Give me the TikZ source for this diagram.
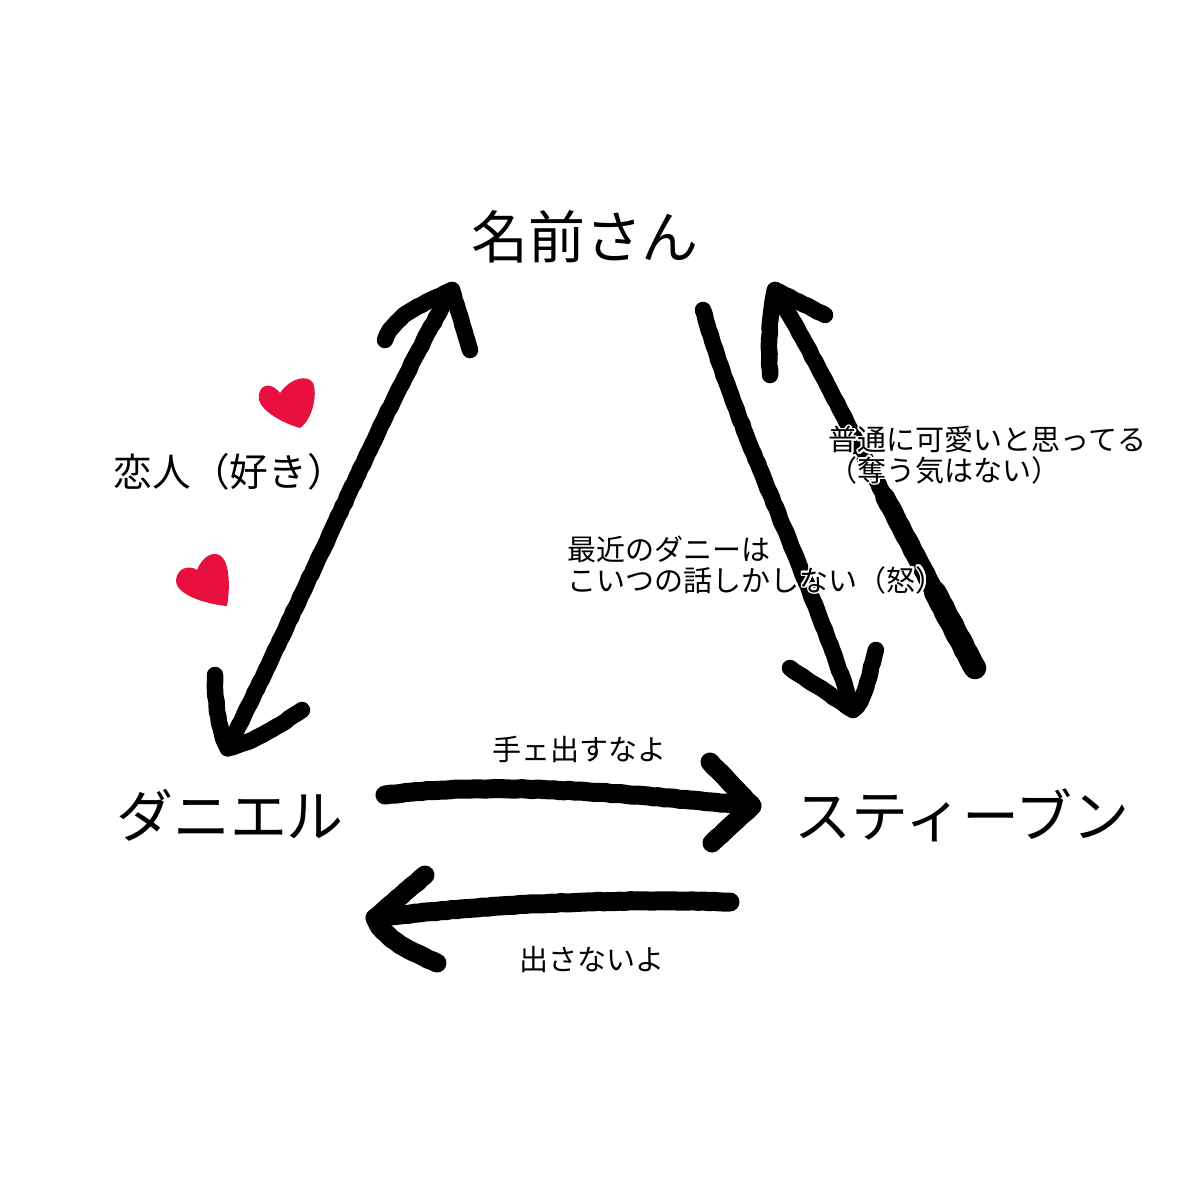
\documentclass[tikz,border=0pt]{standalone}
\usepackage{fontspec}
\setmainfont{Noto Sans CJK JP}
\usepackage[copies]{contour}
\contourlength{0.5pt}
\usetikzlibrary{positioning,decorations.pathmorphing}

\begin{document}
\begin{tikzpicture}[
	x=0.01cm,
	y=-0.01cm,
	person/.style={
		inner sep=0pt,
		font=\fontsize{16.2pt}{18pt}\selectfont,
	},
	remark/.style={
		inner sep=0pt,
		anchor=west,
		align=left,
		font=\fontsize{8.25pt}{8.6pt}\selectfont,
	},
	stroke/.style={
		line width=1.65mm,
		line cap=round,
		line join=round,
		decorate,
		decoration={random steps,segment length=1.5pt,amplitude=0.12pt},
	},
	heart/.style={
		fill={rgb,255:red,232;green,16;blue,63},
	}
]

\useasboundingbox (0,0) rectangle (1200,1200);

% People
\node [person] (name) at (585,237) {名前さん};
\node [person] (dan) at (230,815) {ダニエル};
\node [person] (ste) at (962,815) {スティーブン};

% Arrow ends
\coordinate (nametip) at (452,290);
\coordinate (dantip) at (228,748);
\coordinate (namefoot) at (703,310);
\coordinate (stetip) at (853,710);
\coordinate (stefoot) at (975,668);
\coordinate (stelow) at (935,592);
\coordinate (stemid) at (885,497);
\coordinate (nameback) at (775,290);
\coordinate (danfoot) at (385,795);
\coordinate (steright) at (752,806);
\coordinate (steback) at (730,902);
\coordinate (danback) at (375,918);

% Between name and Daniel
\draw[stroke] (nametip) .. controls (390,395) and (328,545) .. (dantip);
\draw[stroke] (385,340) .. controls (395,315) and (420,305) .. (nametip) -- (470,350);
\draw[stroke] (215,675) .. controls (215,700) and (218,730) .. (dantip)
	.. controls (255,742) and (280,725) .. (302,710);

% Between name and Steven
\draw[stroke] (namefoot) .. controls (740,440) and (800,550) .. (stetip);
\draw[stroke] (790,668) -- (stetip) .. controls (868,695) and (868,675) .. (876,650);
\draw[stroke] (stemid) .. controls (850,430) and (815,358) .. (nameback);
\draw[stroke,line width=1.95mm] (stelow) -- (stemid);
\draw[stroke,line width=2.25mm] (stefoot) -- (stelow);
\draw[stroke] (770,375) .. controls (768,340) and (770,310) .. (nameback) -- (825,315);

% Between Daniel and Steven
\draw[stroke,line width=1.9mm] (danfoot) .. controls (500,780) and (640,795) .. (steright);
\draw[stroke,line width=1.9mm] (710,762) -- (steright) -- (712,843);
\draw[stroke,line width=1.9mm] (steback) .. controls (600,898) and (480,905) .. (danback);
\draw[stroke,line width=1.9mm] (425,875) -- (danback) .. controls (385,940) and (410,950) .. (437,963);

% Hearts
\fill[heart] (280,393) .. controls (270,380) and (257,385) .. (259,400)
	.. controls (262,412) and (285,424) .. (300,428)
	.. controls (312,420) and (318,395) .. (313,383)
	.. controls (308,374) and (290,378) .. (280,393);
\fill[heart] (197,570) .. controls (190,565) and (176,567) .. (176,582)
	.. controls (178,595) and (205,604) .. (227,606)
	.. controls (230,590) and (230,565) .. (222,557)
	.. controls (215,550) and (203,555) .. (197,570);

% Labels
\node [remark,font=\fontsize{11pt}{12pt}\selectfont] (lovers) at (113,472) {恋人（好き）};
\node [remark] (cute) at (828,456) {\contour{white}{普通に可愛いと思ってる}\\\contour{white}{（奪う気はない）}};
\node [remark] (angry) at (567,566) {\contour{white}{最近のダニーは}\\\contour{white}{こいつの話しかしない（怒）}};
\node [remark] (hands) at (492,749) {手ェ出すなよ};
\node [remark] (nohands) at (519,960) {出さないよ};

\end{tikzpicture}
\end{document}
